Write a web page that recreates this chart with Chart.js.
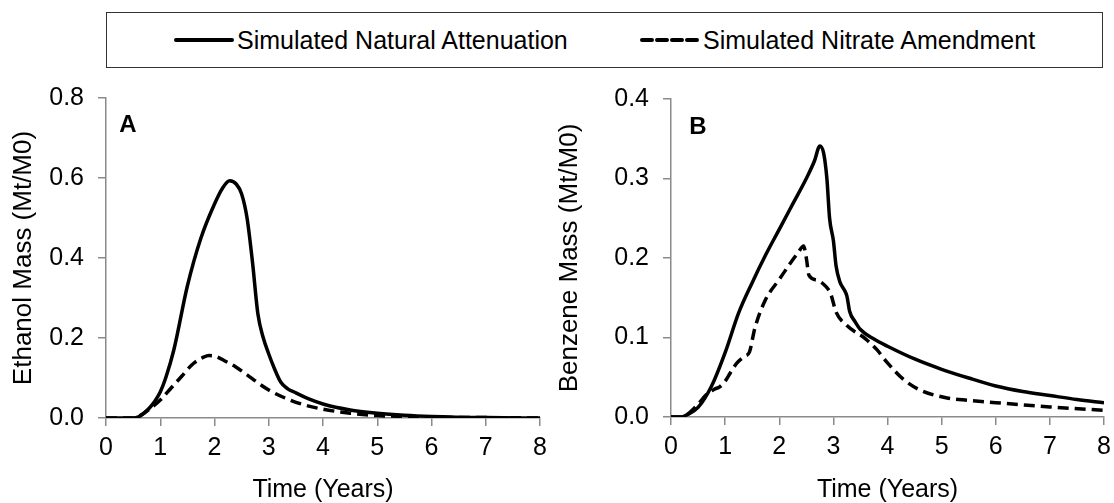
<!DOCTYPE html>
<html>
<head>
<meta charset="utf-8">
<script src="https://cdn.jsdelivr.net/npm/chart.js@4"></script>
<style>
  html, body { margin: 0; padding: 0; background: #fff; }
  #wrap { position: relative; width: 1114px; height: 503px; overflow: hidden; font-family: "Liberation Sans", Arial, sans-serif; }
  #legend { position: absolute; left: 106px; top: 12px; width: 995px; height: 54px; border: 1.5px solid #333; display: flex; align-items: center; font-size: 25px; color: #000; }
  .item { position: absolute; top: 0; height: 54px; display: flex; align-items: center; }
  .item svg { display: block; margin-right: 3px; }
  canvas { position: absolute; top: 75px; }
  #chartA { left: 0; }
  #chartB { left: 557px; }
</style>
</head>
<body>
<div id="wrap">
  <div id="legend">
    <div class="item" style="left:67px"><svg width="60" height="10"><line x1="2" y1="5" x2="58" y2="5" stroke="#000" stroke-width="4" stroke-linecap="round"/></svg><span>Simulated Natural Attenuation</span></div>
    <div class="item" style="left:533px"><svg width="60" height="10"><line x1="2" y1="5" x2="58" y2="5" stroke="#000" stroke-width="4" stroke-dasharray="10 5" stroke-linecap="round"/></svg><span>Simulated Nitrate Amendment</span></div>
  </div>
  <canvas id="chartA" width="557" height="428"></canvas>
  <canvas id="chartB" width="557" height="428"></canvas>
</div>
<script>
// ===== DATA =====
const xTicks = [0, 1, 2, 3, 4, 5, 6, 7, 8];

// Panel A - ethanol
const ethNatT = [0, 0.3, 0.5, 0.6, 0.7, 0.8, 0.9, 1.0, 1.1, 1.25, 1.5, 1.75, 2.0, 2.15, 2.28, 2.4, 2.5, 2.6, 2.7, 2.8, 2.9, 3.0, 3.1, 3.22, 3.35, 3.5, 3.75, 4.0, 4.5, 5.0, 5.5, 6.0, 7.0, 8.0];
const ethNatV = [0, 0, 0, 0.003, 0.012, 0.025, 0.042, 0.065, 0.1, 0.17, 0.33, 0.45, 0.535, 0.575, 0.593, 0.585, 0.56, 0.5, 0.39, 0.26, 0.2, 0.16, 0.125, 0.09, 0.073, 0.063, 0.047, 0.035, 0.02, 0.012, 0.007, 0.004, 0.001, 0];
const ethNitT = [0, 0.3, 0.5, 0.6, 0.7, 0.8, 1.0, 1.2, 1.4, 1.6, 1.8, 1.9, 2.0, 2.2, 2.4, 2.6, 2.8, 3.0, 3.3, 3.6, 4.0, 4.5, 5.0, 5.5, 6.0, 7.0, 8.0];
const ethNitV = [0, 0, 0, 0.004, 0.012, 0.022, 0.045, 0.075, 0.105, 0.135, 0.152, 0.156, 0.155, 0.142, 0.127, 0.108, 0.088, 0.07, 0.05, 0.035, 0.022, 0.012, 0.006, 0.004, 0.002, 0.001, 0];

// Panel B - benzene
const benNatT = [0, 0.2, 0.3, 0.5, 0.75, 1.0, 1.25, 1.5, 1.75, 2.0, 2.25, 2.5, 2.65, 2.75, 2.82, 2.88, 2.93, 3.0, 3.05, 3.12, 3.2, 3.25, 3.3, 3.4, 3.5, 3.75, 4.0, 4.5, 5.0, 5.5, 6.0, 6.5, 7.0, 7.5, 8.0];
const benNatV = [0, 0, 0.003, 0.012, 0.039, 0.081, 0.131, 0.169, 0.204, 0.236, 0.268, 0.3, 0.322, 0.341, 0.332, 0.3, 0.25, 0.222, 0.19, 0.17, 0.16, 0.152, 0.133, 0.12, 0.11, 0.098, 0.089, 0.073, 0.06, 0.049, 0.039, 0.032, 0.027, 0.022, 0.018];
const benNitT = [0, 0.2, 0.3, 0.5, 0.65, 0.8, 0.9, 1.0, 1.1, 1.22, 1.35, 1.45, 1.55, 1.75, 2.0, 2.2, 2.35, 2.45, 2.5, 2.55, 2.7, 2.85, 2.95, 3.05, 3.25, 3.6, 3.8, 4.0, 4.3, 4.6, 5.1, 5.5, 6.0, 7.0, 8.0];
const benNitV = [0, 0, 0.003, 0.016, 0.028, 0.035, 0.038, 0.045, 0.056, 0.068, 0.076, 0.082, 0.112, 0.148, 0.173, 0.193, 0.207, 0.215, 0.2, 0.178, 0.172, 0.165, 0.155, 0.132, 0.115, 0.098, 0.085, 0.068, 0.047, 0.034, 0.024, 0.021, 0.018, 0.0126, 0.0084];

// ===== HELPERS =====
const FONT = '"Liberation Sans", Arial, sans-serif';
const AXIS_GREY = '#8a8a8a';
const zip = (t, v) => t.map((x, i) => ({ x: x, y: v[i] }));

function lineSet(label, t, v, dashed) {
  return {
    label: label, data: zip(t, v),
    borderColor: '#000', borderWidth: 3.5, pointRadius: 0,
    borderDash: dashed ? [11, 6] : [], borderCapStyle: 'butt',
    cubicInterpolationMode: 'monotone', fill: false
  };
}

// bold panel letter in the top-left of each plot
function panelLetter(letter, x, y) {
  return {
    id: 'panelLetter' + letter,
    afterDraw(chart) {
      const ctx = chart.ctx;
      ctx.save();
      ctx.font = 'bold 24px ' + FONT;
      ctx.fillStyle = '#000';
      ctx.textAlign = 'center';
      ctx.textBaseline = 'middle';
      ctx.fillText(letter, x, y);
      ctx.restore();
    }
  };
}

function makePanel(id, o) {
  return new Chart(document.getElementById(id), {
    type: 'line',
    data: { datasets: [lineSet('Simulated Natural Attenuation', o.natT, o.natV, false), lineSet('Simulated Nitrate Amendment', o.nitT, o.nitV, true)] },
    options: {
      responsive: false, animation: false,
      layout: { padding: { top: o.top, right: o.right, left: 0, bottom: 0 } },
      plugins: { legend: { display: false }, tooltip: { enabled: false } },
      scales: {
        x: {
          type: 'linear', min: 0, max: 8,
          afterBuildTicks: s => { s.ticks = xTicks.map(v => ({ value: v })); },
          afterFit: s => { s.height = o.xH; s.paddingLeft = 0; s.paddingRight = 0; },
          grid: { drawOnChartArea: false, drawTicks: true, tickLength: 8, color: AXIS_GREY, lineWidth: 1.5 },
          border: { color: AXIS_GREY, width: 1.5 },
          ticks: { color: '#000', padding: 7, maxRotation: 0, font: { family: FONT, size: 25 } },
          title: { display: true, text: 'Time (Years)', color: '#000', padding: { top: 6, bottom: 0 }, font: { family: FONT, size: 25, lineHeight: 1 } }
        },
        y: {
          min: 0, max: o.yMax,
          afterBuildTicks: s => { s.ticks = o.yTicks.map(v => ({ value: v })); },
          afterFit: s => { s.width = o.yW; s.paddingTop = 0; s.paddingBottom = 0; },
          grid: { drawOnChartArea: false, drawTicks: true, tickLength: 8, color: AXIS_GREY, lineWidth: 1.5 },
          border: { color: AXIS_GREY, width: 1.5 },
          ticks: { color: '#000', padding: 14, callback: v => v.toFixed(1), font: { family: FONT, size: 25 } },
          title: { display: true, text: o.yTitle, color: '#000', padding: { top: o.yTitlePad, bottom: 0 }, font: { family: FONT, size: 26, lineHeight: 1 } }
        }
      }
    },
    plugins: [panelLetter(o.letter, o.lx, o.ly)]
  });
}

makePanel('chartA', {
  natT: ethNatT, natV: ethNatV, nitT: ethNitT, nitV: ethNitV,
  yMax: 0.8, yTicks: [0, 0.2, 0.4, 0.6, 0.8], yTitle: 'Ethanol Mass (Mt/M0)',
  top: 23, right: 17, xH: 85, yW: 106, yTitlePad: 11,
  letter: 'A', lx: 128, ly: 50
});
makePanel('chartB', {
  natT: benNatT, natV: benNatV, nitT: benNitT, nitV: benNitV,
  yMax: 0.4, yTicks: [0, 0.1, 0.2, 0.3, 0.4], yTitle: 'Benzene Mass (Mt/M0)',
  top: 24, right: 10, xH: 86, yW: 114, yTitlePad: 0,
  letter: 'B', lx: 141, ly: 52
});
</script>
</body>
</html>
